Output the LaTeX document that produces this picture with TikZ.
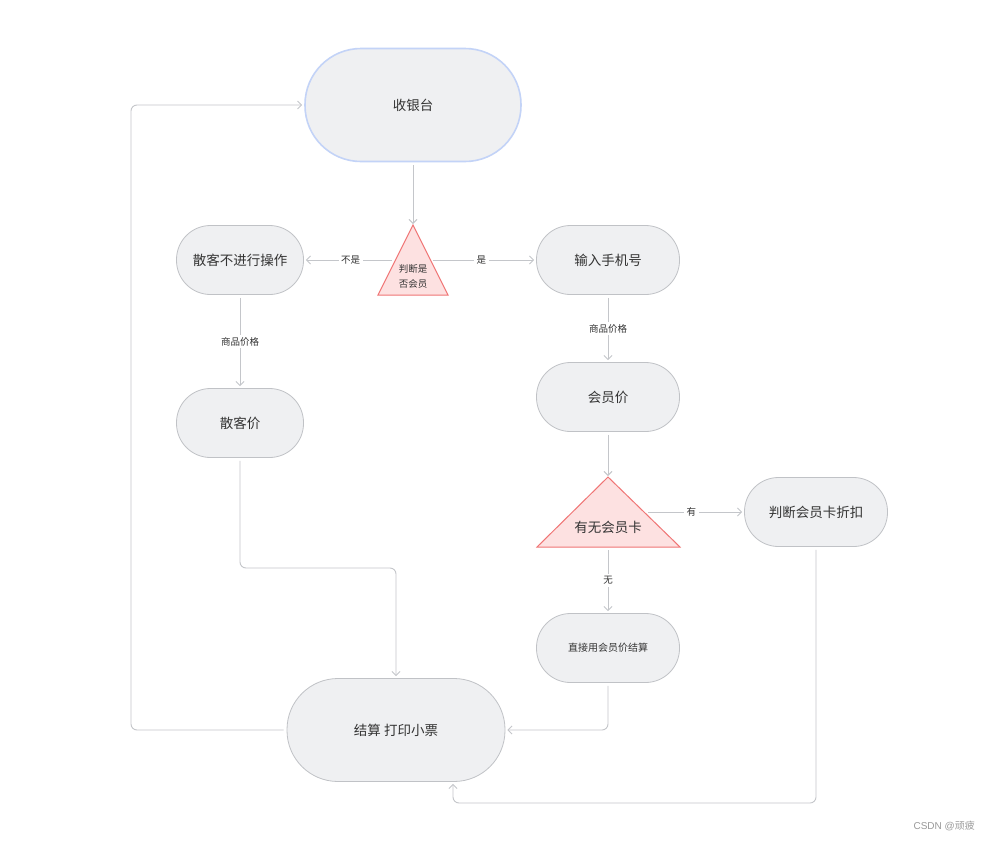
\documentclass[tikz,border=0pt]{standalone}
\usepackage{fontspec}
\newfontfamily\cjk{Noto Sans CJK SC}
\usetikzlibrary{arrows.meta}
\definecolor{linec}{HTML}{C4C6CA}
\definecolor{bordc}{HTML}{C0C2C6}
\definecolor{nodefill}{HTML}{EFF0F2}
\definecolor{trifill}{HTML}{FDE1E1}
\definecolor{tridraw}{HTML}{F07474}
\definecolor{bluec}{HTML}{C3D3F7}
\definecolor{textc}{HTML}{333333}
\begin{document}
\begin{tikzpicture}[x=1pt,y=-1pt,
  pill/.style={draw=bordc, fill=nodefill, line width=0.8pt, rounded corners=34pt,
    minimum width=127pt, minimum height=69pt, inner sep=0pt, text=textc,
    font=\cjk\fontsize{13.5}{15}\selectfont},
  wide/.style={minimum width=143pt},
  tri/.style={draw=tridraw, fill=trifill, line width=1pt, line join=miter},
  conn/.style={draw=linec, line width=0.9pt, -{Straight Barb[length=4pt,width=8pt]},
    shorten <=3pt, shorten >=2pt},
  lab/.style={fill=white, font=\cjk\fontsize{9.5}{11}\selectfont, inner sep=2.5pt, text=textc}
]
\useasboundingbox[fill=white] (0,0) rectangle (991,841);

% nodes
\node[pill, minimum width=216pt, minimum height=113pt, rounded corners=56pt,
      draw=bluec, line width=1.6pt] (cash) at (413,105) {收银台};
\node[pill] (sk) at (240,260) {散客不进行操作};
\node[pill, wide] (phone) at (608,260) {输入手机号};
\node[pill] (skp) at (240,423) {散客价};
\node[pill, wide] (vip) at (608,397) {会员价};
\node[pill, wide] (card) at (816,512) {判断会员卡折扣};
\node[pill, wide, font=\cjk\fontsize{10}{12}\selectfont] (direct) at (608,648) {直接用会员价结算};
\node[pill, minimum width=218pt, minimum height=103pt, rounded corners=51pt] (pay) at (396,730) {结算 打印小票};

% triangle 1
\draw[tri] (413,225) -- (448,295) -- (378,295) -- cycle;
\node[align=center, text=textc, font=\cjk\fontsize{9.5}{15}\selectfont, inner sep=0pt] (t1) at (413,276) {判断是\\否会员};
\coordinate (t1top) at (413,225);
\coordinate (t1l) at (392,260);
\coordinate (t1r) at (433,260);

% triangle 2
\draw[tri] (608,477) -- (680,547) -- (537,547) -- cycle;
\node[text=textc, font=\cjk\fontsize{13.5}{15}\selectfont, inner sep=0pt] (t2) at (608,527) {有无会员卡};
\coordinate (t2top) at (608,477);
\coordinate (t2r) at (648,512);
\coordinate (t2b) at (608,547);

% connectors
\draw[conn, shorten >=1pt] (cash) -- (t1top);
\draw[conn, shorten <=0pt] (t1l) -- node[lab, pos=0.47]{不是} (sk.east);
\draw[conn, shorten <=0pt] (t1r) -- node[lab, pos=0.47]{是} (phone.west);
\draw[conn] (sk) -- node[lab]{商品价格} (skp);
\draw[conn] (phone) -- node[lab]{商品价格} (vip);
\draw[conn, shorten >=1pt] (vip) -- (t2top);
\draw[conn, shorten <=0pt] (t2r) -- node[lab, pos=0.45]{有} (card.west);
\draw[conn] (t2b) -- node[lab, pos=0.5]{无} (direct.north);

\coordinate (c1) at (240,568);
\draw[conn, rounded corners=6pt] (skp.south) -- (c1) -| (pay.north);
\draw[conn, rounded corners=6pt] (direct.south) |- (pay.east);
\coordinate (c2) at (453,803);
\draw[conn, rounded corners=6pt] (card.south) |- (c2) -- (pay.south -| c2);
\coordinate (lx) at (131,0);
\draw[conn, rounded corners=6pt] (pay.west) -- (pay.west -| lx) |- (cash.west);

% watermark
\node[font=\fontspec{Liberation Sans}\fontsize{10}{12}\selectfont, text=gray!80, anchor=east, inner sep=0pt] (wm) at (975,826) {CSDN @{\cjk 顽疲}};
\end{tikzpicture}
\end{document}
